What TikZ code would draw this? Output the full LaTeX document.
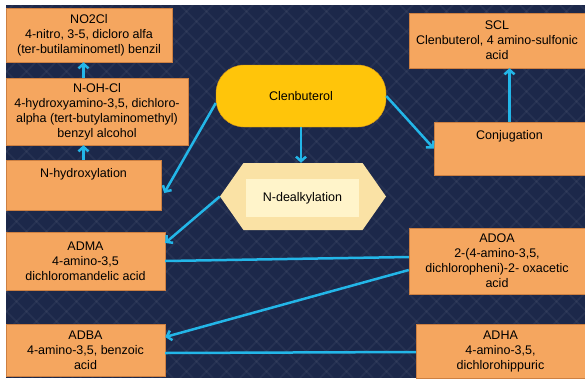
\documentclass[tikz,border=0pt]{standalone}
\usepackage{fontspec}
\setmainfont{Liberation Sans}
\usetikzlibrary{arrows.meta,shapes,positioning}
\definecolor{navy}{RGB}{28,40,74}
\definecolor{boxorange}{RGB}{245,166,95}
\definecolor{boxedge}{RGB}{205,128,66}
\definecolor{clengold}{RGB}{255,197,10}
\definecolor{clenedge}{RGB}{214,150,24}
\definecolor{hexfill}{RGB}{250,226,165}
\definecolor{hexinner}{RGB}{255,244,202}
\definecolor{flowblue}{RGB}{35,182,232}
\tikzset{
    basic/.style  = {rectangle, font=\fontsize{12.5}{15}\selectfont, align=center, inner sep=0pt},
    metabolite/.style = {basic, draw=boxedge, fill=boxorange, thin},
    process box/.style = {metabolite, text height=9pt, text depth=#1, inner ysep=8pt},
    root/.style   = {basic, draw=clenedge, fill=clengold, thin, rounded corners=28pt},
    hexa/.style   = {signal, signal to=west and east, signal pointer angle=110, fill=hexfill, inner sep=0pt},
    inner label/.style = {basic, fill=hexinner},
    flow/.style   = {draw=flowblue, line width=2.5pt, ->},
    link/.style   = {draw=flowblue, line width=2.5pt},
    hatch/.style  = {white, opacity=0.05, line width=1.5pt}
}
\begin{document}
\begin{tikzpicture}[x=1pt, y=-1pt, >={Straight Barb[length=4.5pt,width=10pt]}]
	\useasboundingbox (0,0) rectangle (585,378);
	\fill[white] (0,0) rectangle (585,378);
	\fill[navy] (6,5) rectangle (585,378);
	% background texture
	\begin{scope}
		\clip (6,5) rectangle (585,378);
		\foreach \t in {-400,-380,...,600} {
			\draw[hatch] (\t,5) -- (\t+373,378);
			\draw[hatch] (\t+373,5) -- (\t,378);
		}
	\end{scope}
	% left column
	\node[metabolite, minimum width=166pt, minimum height=54pt] (no2cl) at (89,35)
		{NO2Cl\\4-nitro, 3-5, dicloro alfa\\(ter-butilaminometl) benzil};
	\node[metabolite, minimum width=182pt, minimum height=67pt] (nohcl) at (97,111.5)
		{N-OH-Cl\\4-hydroxyamino-3,5, dichloro-\\alpha (tert-butylaminomethyl)\\benzyl alcohol};
	\node[process box=25pt, minimum width=155pt] (nhydrox) at (83.5,185) {N-hydroxylation};
	\node[metabolite, minimum width=159pt, minimum height=58pt] (adma) at (85.5,261)
		{ADMA\\4-amino-3,5\\dichloromandelic acid};
	\node[metabolite, minimum width=159pt, minimum height=52pt] (adba) at (85.5,350)
		{ADBA\\4-amino-3,5, benzoic\\acid};
	% centre
	\node[root, minimum width=170pt, minimum height=62pt] (clen) at (301,96) {Clenbuterol};
	\node[hexa, minimum width=166pt, minimum height=67pt] (hex) at (303,196.5) {};
	\node[inner label, minimum width=113pt, minimum height=38pt] (dealk) at (302.5,198) {N-dealkylation};
	% right column
	\node[metabolite, minimum width=176pt, minimum height=55pt] (scl) at (497,40.5)
		{SCL\\Clenbuterol, 4 amino-sulfonic\\acid};
	\node[process box=28pt, minimum width=151pt] (conj) at (509.5,148.5) {Conjugation};
	\node[metabolite, minimum width=176pt, minimum height=66pt] (adoa) at (497,261)
		{ADOA\\2-(4-amino-3,5,\\dichloropheni)-2- oxacetic\\acid};
	\node[metabolite, minimum width=169pt, minimum height=54pt] (adha) at (500.5,351)
		{ADHA\\4-amino-3,5,\\dichlorohippuric};
	% connectors
	\draw[flow] (nhydrox.north) -- (nhydrox.north |- nohcl.south);
	\draw[flow] (nohcl.north -| nhydrox.north) -- (no2cl.south -| nhydrox.north);
	\draw[flow] ([yshift=-7pt]clen.west) -- ([xshift=3pt,yshift=-8pt]nhydrox.east);
	\draw[flow] (clen.south) -- (clen.south |- hex.north);
	\draw[flow] (clen.east) -- (conj.west);
	\draw[flow] (conj.north) -- (conj.north |- scl.south);
	\draw[flow] (hex.west) -- ([yshift=18pt]adma.east);
	\draw[link] (adma.east) -- ([yshift=4pt]adoa.west);
	\draw[flow] ([yshift=-9pt]adoa.west) -- ([yshift=13pt]adba.east);
	\draw[link] ([yshift=-3pt]adba.east) -- ([yshift=-1pt]adha.west);
\end{tikzpicture}
\end{document}
